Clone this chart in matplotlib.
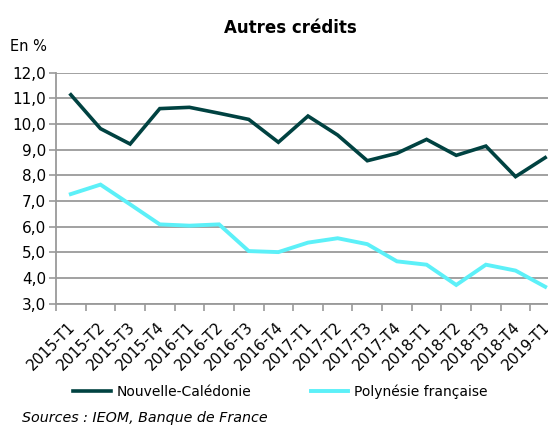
import matplotlib
matplotlib.use("Agg")
import matplotlib.pyplot as plt
import matplotlib.transforms as mtransforms
import numpy as np

# quarters and series (in %)
quarters = ["2015-T1", "2015-T2", "2015-T3", "2015-T4",
            "2016-T1", "2016-T2", "2016-T3", "2016-T4",
            "2017-T1", "2017-T2", "2017-T3", "2017-T4",
            "2018-T1", "2018-T2", "2018-T3", "2018-T4", "2019-T1"]
nouvelle_caledonie = [11.14, 9.82, 9.22, 10.60, 10.65, 10.42, 10.18, 9.29,
                      10.31, 9.57, 8.57, 8.86, 9.40, 8.78, 9.14, 7.95, 8.69]
polynesie = [7.27, 7.64, 6.87, 6.09, 6.04, 6.09, 5.05, 5.01,
             5.38, 5.55, 5.32, 4.65, 4.52, 3.73, 4.52, 4.29, 3.66]

dark = '#004241'
cyan = '#5cf0f8'
grid_col = '#9a9a9a'

plt.rcParams['font.family'] = ['DejaVu Sans']

fig = plt.figure(figsize=(5.48, 4.25), dpi=100)
# axes is wider than the figure on the right: the original chart was cropped
ax = fig.add_axes([0.1022, 0.2854, 0.9197, 0.5436])

x = np.arange(len(quarters))
ax.plot(x, nouvelle_caledonie, color=dark, lw=2.6, label='Nouvelle-Calédonie',
        solid_joinstyle='miter', zorder=3)
ax.plot(x, polynesie, color=cyan, lw=2.8, label='Polynésie française',
        solid_joinstyle='miter', zorder=3)

ax.set_xlim(-0.5, len(quarters) - 0.5)
ax.set_ylim(3, 12)
ax.set_yticks(np.arange(3, 12.1, 1))
ax.set_yticklabels([f"{v:.1f}".replace('.', ',') for v in np.arange(3, 12.1, 1)],
                   fontsize=11)
ax.yaxis.grid(True, color=grid_col, lw=1.3)
ax.set_axisbelow(True)

ax.set_xticks(np.arange(-0.5, len(quarters), 1), minor=False)
ax.set_xticklabels([])
ax.set_xticks(x, minor=True)
ax.set_xticklabels(quarters, minor=True, rotation=45, ha='right',
                   rotation_mode='anchor', fontsize=10.8)
ax.tick_params(axis='x', which='minor', length=0, pad=11)
ax.tick_params(axis='x', which='major', length=5, width=1.2, color=grid_col)
ax.tick_params(axis='y', length=5, width=1.2, color=grid_col, pad=2)

# nudge the rotated labels a little to the left
shift = mtransforms.ScaledTranslation(-3 / 100, 0, fig.dpi_scale_trans)
for lab in ax.get_xticklabels(minor=True):
    lab.set_transform(lab.get_transform() + shift)

for s in ['top', 'right']:
    ax.spines[s].set_visible(False)
for s in ['left', 'bottom']:
    ax.spines[s].set_color(grid_col)
    ax.spines[s].set_linewidth(1.3)

fig.text(0.53, 0.935, 'Autres crédits', ha='center', va='center',
         fontsize=12, fontweight='bold')
fig.text(0.018, 0.89, 'En %', ha='left', va='center', fontsize=10.5)

fig.legend(loc='center left', bbox_to_anchor=(0.111, 0.078), ncol=2,
           frameon=False, fontsize=10, handlelength=2.7, handletextpad=0.4,
           columnspacing=4.3)

fig.text(0.04, 0.016, 'Sources : IEOM, Banque de France', ha='left',
         va='center', fontsize=10.3, style='italic')

fig.savefig('out.png', dpi=100)
